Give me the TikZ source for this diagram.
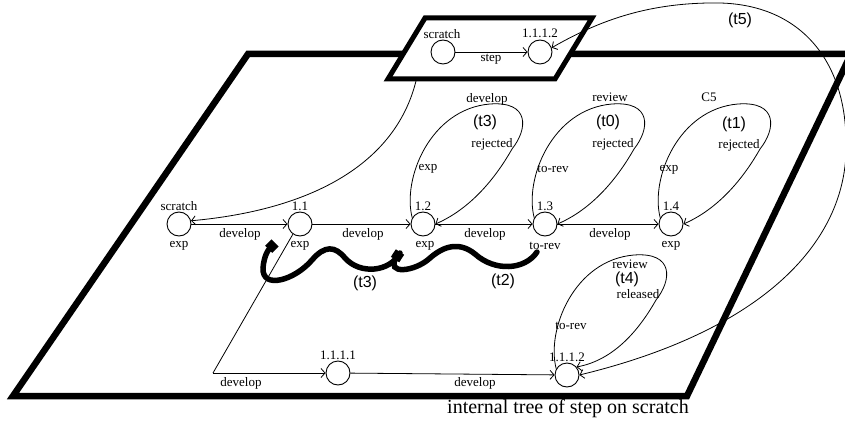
\documentclass[tikz,border=0pt]{standalone}
\usepackage{fontspec}
\setmainfont{Liberation Serif}
\newfontfamily\tfont{Liberation Sans}
\usetikzlibrary{arrows.meta}
\newcommand{\rsloop}[2]{\draw[arr] (#1.150) .. controls ([shift={(-21,-45)}]#1.center) and ([shift={(7,-115)}]#1.center) .. ([shift={(67,-120)}]#1.center) .. controls ([shift={(107,-123)}]#1.center) and ([shift={(105,-95)}]#1.center) .. ([shift={(89,-75)}]#1.center) .. controls ([shift={(72,-45)}]#1.center) and ([shift={(47,-15)}]#1.center) .. (#1.#2);}
\begin{document}
\begin{tikzpicture}[x=1pt,y=-1pt,
 st/.style={circle,draw,line width=0.9pt,minimum size=24pt,inner sep=0pt},
 lab/.style={font=\fontsize{13}{13}\selectfont,inner sep=0pt},
 tl/.style={font=\tfont\fontsize{16}{16}\selectfont,inner sep=0pt},
 arr/.style={line width=0.8pt,-{Straight Barb[length=4pt,width=9pt]}},
 darr/.style={line width=0.8pt,{Straight Barb[length=4pt,width=9pt]}-{Straight Barb[length=4pt,width=9pt]}},
 frame/.style={line width=6.5pt,line join=miter},
 sframe/.style={line width=5pt,line join=miter,fill=white},
 wave/.style={line width=5.5pt,line cap=round,-{Square[length=9pt,width=10pt]}}]
\useasboundingbox (0,0) rectangle (845,422);
% frames
\draw[frame] (13,396) -- (248,54) -- (851,54) -- (687,396) -- cycle;
\draw[sframe] (388,79) -- (425,18) -- (592,18) -- (555,79) -- cycle;
% small box nodes
\node[st] (sb1) at (443,52) {};
\node[st] (sb2) at (540,52) {};
\node[lab] (sb1t) at (442,34) {scratch};
\node[lab] (sb2t) at (540,33) {1.1.1.2};
\draw[arr] (sb1) -- (sb2);
\node[lab] (stepl) at (491,59) {step};
% main row
\node[st] (s) at (179,224) {};
\node[st] (n11) at (300,224) {};
\node[st] (n12) at (423,224) {};
\node[st] (n13) at (545,224) {};
\node[st] (n14) at (671,224) {};
\node[st] (n1111) at (338,373) {};
\node[st] (n1112) at (567,375) {};
\node[lab] (sT) at (179,206) {scratch};
\node[lab] (sB) at (179,246) {exp};
\node[lab] (n11T) at (300,206) {1.1};
\node[lab] (n11B) at (300,246) {exp};
\node[lab] (n12T) at (423,206) {1.2};
\node[lab] (n12B) at (425,246) {exp};
\node[lab] (n13T) at (545,206) {1.3};
\node[lab] (n13B) at (545,246) {to-rev};
\node[lab] (n14T) at (671,206) {1.4};
\node[lab] (n14B) at (671,246) {exp};
\node[lab] (n1111T) at (338,355) {1.1.1.1};
\node[lab] (n1112T) at (567,357) {1.1.1.2};
% straight edges
\draw[arr] (s) -- (n11);
\draw[arr] (n11) -- (n12);
\draw[arr] (n12) -- (n13);
\draw[arr] (n13) -- (n14);
\draw[arr] (n1111) -- (n1112);
\node[lab] (d1) at (240,234) {develop};
\node[lab] (d2) at (363,234) {develop};
\node[lab] (d3) at (485,234) {develop};
\node[lab] (d4) at (610,234) {develop};
\node[lab] (d5) at (241,383) {develop};
\node[lab] (d6) at (475,383) {develop};
\coordinate (dc) at (213,373);
\draw[line width=0.8pt] (n11.235) -- (dc);
\draw[arr] (dc) -- (n1111);
% curve from small box to scratch
\coordinate (sbb) at (416,81);
\draw[arr] (sbb) .. controls (395,165) and (310,210) .. (s.15);
% loops
\rsloop{n12}{east}
\rsloop{n13}{east}
\rsloop{n14}{east}
\rsloop{n1112}{40}
\node[lab] (l12a) at ([shift={(64,-125)}]n12.center) {develop};
\node[tl]  (l12b) at ([shift={(62,-102)}]n12.center) {(t3)};
\node[lab] (l12c) at ([shift={(69,-80)}]n12.center) {rejected};
\node[lab] (l12d) at ([shift={(5,-55)}]n12.center) {exp};
\node[lab] (l13a) at ([shift={(65,-127)}]n13.center) {review};
\node[tl]  (l13b) at ([shift={(63,-102)}]n13.center) {(t0)};
\node[lab] (l13c) at ([shift={(68,-80)}]n13.center) {rejected};
\node[lab] (l13d) at ([shift={(8,-55)}]n13.center) {to-rev};
\node[lab] (l14a) at ([shift={(38,-127)}]n14.center) {C5};
\node[tl]  (l14b) at ([shift={(63,-100)}]n14.center) {(t1)};
\node[lab] (l14c) at ([shift={(68,-79)}]n14.center) {rejected};
\node[lab] (l14d) at ([shift={(-2,-54)}]n14.center) {exp};
\node[lab] (l4a) at ([shift={(63,-111)}]n1112.center) {review};
\node[tl]  (l4b) at ([shift={(60,-96)}]n1112.center) {(t4)};
\node[lab] (l4c) at ([shift={(71,-81)}]n1112.center) {released};
\node[lab] (l4d) at ([shift={(4,-49)}]n1112.center) {to-rev};
% t5
\draw[darr] (n1112.east) .. controls (765,330) and (850,240) .. (846,140) .. controls (845,60) and (800,5) .. (720,3) .. controls (650,2) and (600,20) .. (sb2.20);
\node[tl] (t5) at (740,20) {(t5)};
% squiggles
\coordinate (w2s) at (537,252);
\draw[wave] (w2s) .. controls (525,270) and (495,272) .. (475,254) .. controls (460,242) and (445,245) .. (430,258) .. controls (415,272) and (385,275) .. (400,252);
\coordinate (w3s) at (400,253);
\draw[wave] (w3s) .. controls (390,272) and (360,275) .. (345,258) .. controls (335,246) and (325,245) .. (312,260) .. controls (295,280) and (262,290) .. (263,268) .. controls (264,256) and (268,250) .. (275,243);
\node[tl] (t3w) at (365,283) {(t3)};
\node[tl] (t2w) at (503,281) {(t2)};
% caption
\node[font=\fontsize{20}{20}\selectfont,inner sep=0pt] (cap) at (568,409) {internal tree of step on scratch};
\end{tikzpicture}
\end{document}
